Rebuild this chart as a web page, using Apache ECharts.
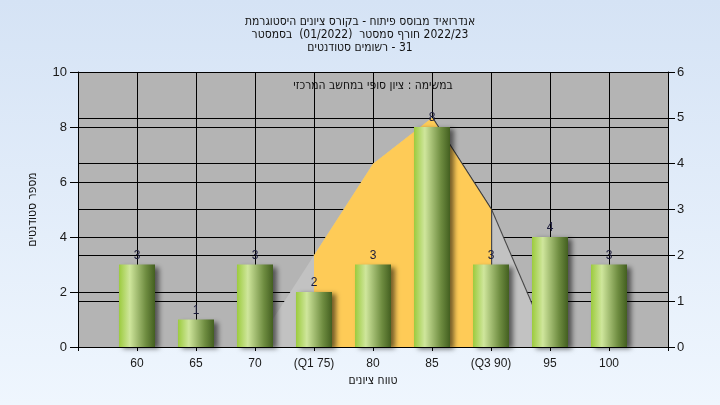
<!DOCTYPE html>
<html>
<head>
<meta charset="utf-8">
<script src="https://cdn.jsdelivr.net/npm/echarts@6/dist/echarts.min.js"></script>
<style>html,body{margin:0;padding:0;}#c{width:720px;height:405px;}</style>
</head>
<body>
<div id="c"></div>
<script>
const LRM = '\u200E';
const titleLines = [
  'היסטוגרמת' + LRM + ' ציונים' + LRM + ' בקורס' + LRM + ' - פיתוח' + LRM + ' מבוסס' + LRM + ' אנדרואיד',
  'בסמסטר' + LRM + '  (01/2022)  סמסטר' + LRM + ' חורף' + LRM + ' 2022/23',
  'סטודנטים' + LRM + ' רשומים' + LRM + ' - 31'
];
const subtitleText = 'במשימה : ציון סופי במחשב המרכזי';
const xAxisName = 'טווח ציונים';
const yAxisName = 'מספר סטודנטים';
const categories = ['', '60', '65', '70', '(Q1 75)', '80', '85', '(Q3 90)', '95', '100', ''];
const counts = [null, 3, 1, 3, 2, 3, 8, 3, 4, 3, null];
const curve = [null, null, null, 0, 2, 4, 5, 3, 0, null, null];
const curveQ = [null, null, null, null, 2, 4, 5, 3, null, null, null];

const FONT = "'Liberation Sans Narrow','DejaVu Sans Condensed','Liberation Sans',sans-serif";
const NUMFONT = "'Liberation Sans',sans-serif";
const chart = echarts.init(document.getElementById('c'), null, {renderer: 'canvas'});
chart.setOption({
  animation: false,
  backgroundColor: {type: 'linear', x: 0, y: 0, x2: 0, y2: 1, colorStops: [
    {offset: 0, color: '#d5e3f5'}, {offset: 1, color: '#eff6fe'}]},
  title: {
    text: titleLines.join('\n'),
    left: 'center', top: 10,
    textStyle: {fontFamily: FONT, fontSize: 12, fontWeight: 'normal', color: '#111', lineHeight: 13}
  },
  graphic: [{
    type: 'text', x: 373, y: 86,
    style: {text: subtitleText, textAlign: 'center', textVerticalAlign: 'middle',
      font: "12px 'Liberation Sans Narrow','DejaVu Sans Condensed',sans-serif", fill: '#111'}
  }],
  grid: {left: 78, right: 52, top: 72, bottom: 58, show: true, backgroundColor: '#b4b4b4', borderWidth: 0},
  xAxis: {
    type: 'category', data: categories, boundaryGap: false,
    name: xAxisName, nameLocation: 'middle', nameGap: 27,
    nameTextStyle: {fontFamily: FONT, fontSize: 12, color: '#111'},
    axisLine: {lineStyle: {color: '#000', width: 1}},
    axisTick: {length: 4, lineStyle: {color: '#000'}},
    axisLabel: {fontFamily: NUMFONT, fontSize: 12, color: '#1a1a1a', margin: 11},
    splitLine: {show: true, lineStyle: {color: '#000', width: 1}}
  },
  yAxis: [{
    type: 'value', min: 0, max: 10, interval: 2,
    name: yAxisName, nameLocation: 'middle', nameGap: 39,
    nameTextStyle: {fontFamily: FONT, fontSize: 12, color: '#111'},
    axisLine: {show: true, lineStyle: {color: '#000'}},
    axisTick: {show: true, length: 8, lineStyle: {color: '#000'}},
    axisLabel: {fontFamily: NUMFONT, fontSize: 13, color: '#1a1a1a', margin: 11},
    splitLine: {show: true, lineStyle: {color: '#000', width: 1}}
  }, {
    type: 'value', min: 0, max: 6, interval: 1, position: 'right',
    axisLine: {show: true, lineStyle: {color: '#000'}},
    axisTick: {show: true, length: 7, lineStyle: {color: '#000'}},
    axisLabel: {fontFamily: NUMFONT, fontSize: 13, color: '#1a1a1a', margin: 9},
    splitLine: {show: true, lineStyle: {color: '#000', width: 1}}
  }],
  series: [{
    type: 'line', yAxisIndex: 1, data: curve, symbol: 'none', connectNulls: false, z: 1,
    lineStyle: {width: 0},
    areaStyle: {color: '#c2c2c2', opacity: 1, shadowColor: 'rgba(60,60,60,0.9)', shadowOffsetX: 1.2, shadowBlur: 0}
  }, {
    type: 'line', yAxisIndex: 1, data: curveQ, symbol: 'none', connectNulls: false, z: 2,
    lineStyle: {width: 0},
    areaStyle: {color: '#fecb57', opacity: 1, shadowColor: 'rgba(60,60,60,0.9)', shadowOffsetX: 1.2, shadowBlur: 0}
  }, {
    type: 'bar', yAxisIndex: 0, data: counts, barWidth: 36, z: 3,
    itemStyle: {
      color: {type: 'linear', x: 0, y: 0, x2: 1, y2: 0, colorStops: [
        {offset: 0, color: '#9ccb3e'}, {offset: 0.3, color: '#cfe69c'},
        {offset: 0.75, color: '#6e8c40'}, {offset: 1, color: '#435f20'}]},
      shadowColor: 'rgba(0,0,0,0.55)', shadowBlur: 5, shadowOffsetX: 4, shadowOffsetY: 2
    },
    label: {show: true, position: 'top', distance: 3, fontFamily: NUMFONT, fontSize: 12, color: '#1a1a3a'}
  }]
});
</script>
</body>
</html>
